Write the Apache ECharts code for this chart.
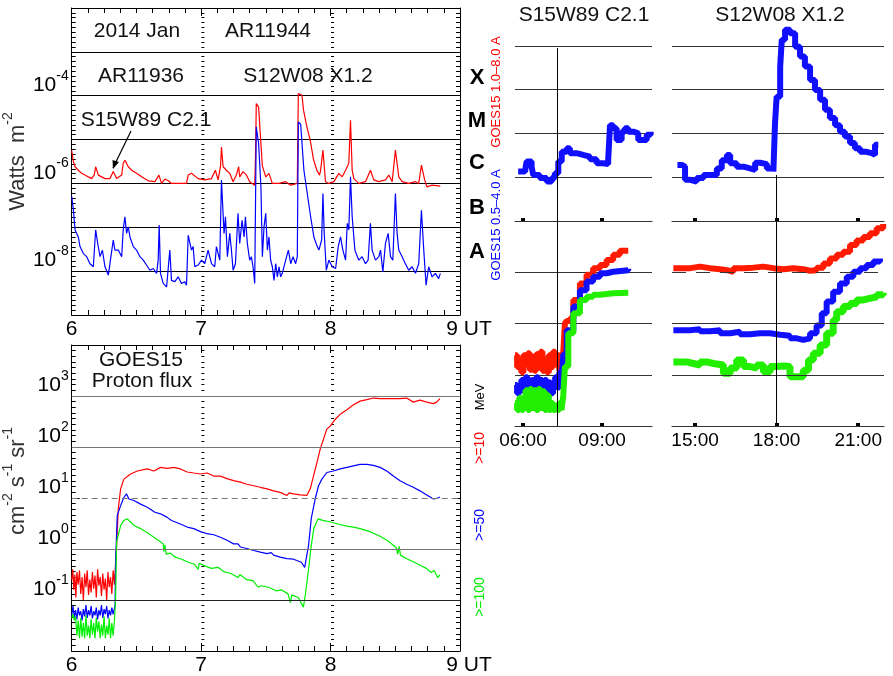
<!DOCTYPE html>
<html>
<head>
<meta charset="utf-8">
<title>GOES15 X-ray and proton flux, 2014 Jan 6-8</title>
<script src="https://cdn.jsdelivr.net/npm/echarts@6.0.0/dist/echarts.min.js"></script>
<style>
  html, body { margin: 0; padding: 0; background: #fff; }
  #chart { width: 893px; height: 676px; }
</style>
</head>
<body>
<div id="chart"></div>
<script>
// ---------------- data ----------------
// left panels: x = day of 2014 Jan (UT), y = log10(flux)
// right panels: x = hour UT of the day, y = log10(flux)

// GOES15 X-ray 1.0-8.0 A, W m^-2 (log10)
const xrayLong = [[6.000,-5.25],[6.013,-5.50],[6.026,-5.62],[6.051,-5.70],[6.077,-5.77],[6.116,-5.83],[6.154,-5.89],[6.175,-5.80],[6.185,-5.62],[6.206,-5.81],[6.257,-5.89],[6.296,-5.89],[6.321,-5.73],[6.347,-5.89],[6.386,-5.81],[6.398,-5.54],[6.411,-5.47],[6.437,-5.62],[6.463,-5.70],[6.501,-5.77],[6.540,-5.85],[6.591,-5.94],[6.643,-5.96],[6.674,-5.81],[6.694,-6.00],[6.720,-5.90],[6.746,-5.94],[6.771,-6.00],[6.823,-6.00],[6.887,-6.00],[6.900,-5.81],[6.925,-5.77],[6.977,-5.89],[7.028,-5.92],[7.080,-5.89],[7.110,-5.70],[7.131,-5.92],[7.150,-5.60],[7.157,-5.17],[7.170,-5.62],[7.195,-5.70],[7.221,-5.77],[7.247,-5.96],[7.272,-5.81],[7.290,-5.62],[7.298,-5.85],[7.324,-5.73],[7.350,-5.81],[7.375,-5.96],[7.414,-6.04],[7.420,-5.40],[7.426,-4.18],[7.444,-4.26],[7.457,-4.87],[7.473,-5.60],[7.499,-5.85],[7.524,-5.77],[7.550,-6.00],[7.602,-6.00],[7.653,-5.96],[7.692,-6.04],[7.743,-6.00],[7.751,-3.95],[7.765,-3.97],[7.779,-3.99],[7.791,-4.33],[7.817,-4.71],[7.843,-5.02],[7.868,-5.45],[7.894,-5.70],[7.915,-5.81],[7.923,-5.70],[7.941,-5.24],[7.961,-5.96],[7.987,-6.00],[8.026,-5.96],[8.064,-5.77],[8.090,-5.85],[8.116,-5.70],[8.141,-5.54],[8.154,-4.56],[8.167,-5.70],[8.180,-5.89],[8.218,-6.00],[8.270,-5.96],[8.308,-5.70],[8.334,-5.92],[8.373,-5.96],[8.424,-5.92],[8.450,-5.81],[8.476,-5.96],[8.501,-5.24],[8.527,-5.85],[8.553,-5.96],[8.604,-6.00],[8.656,-5.96],[8.681,-6.00],[8.702,-5.58],[8.727,-5.92],[8.745,-6.08],[8.784,-6.04],[8.848,-6.06]];

// GOES15 X-ray 0.5-4.0 A (log10)
const xrayShort = [[6.000,-6.30],[6.013,-6.61],[6.026,-7.06],[6.039,-7.03],[6.051,-7.22],[6.064,-7.44],[6.090,-7.60],[6.116,-7.67],[6.141,-7.83],[6.167,-7.90],[6.185,-7.06],[6.201,-7.37],[6.219,-7.67],[6.237,-7.52],[6.257,-7.90],[6.283,-8.09],[6.303,-7.67],[6.321,-7.29],[6.334,-7.52],[6.360,-7.52],[6.386,-7.67],[6.398,-7.06],[6.411,-6.76],[6.424,-7.14],[6.437,-6.99],[6.450,-7.22],[6.476,-7.44],[6.501,-7.52],[6.527,-7.67],[6.553,-7.75],[6.578,-7.86],[6.604,-7.98],[6.630,-7.94],[6.656,-8.05],[6.668,-7.75],[6.676,-6.95],[6.686,-8.05],[6.707,-8.28],[6.733,-8.36],[6.758,-7.52],[6.771,-8.21],[6.797,-8.24],[6.823,-8.13],[6.848,-8.28],[6.874,-8.24],[6.887,-8.32],[6.900,-7.18],[6.925,-7.52],[6.938,-7.44],[6.951,-7.90],[6.977,-7.86],[7.003,-7.75],[7.028,-7.83],[7.054,-7.52],[7.080,-7.83],[7.105,-7.90],[7.118,-7.44],[7.144,-7.75],[7.157,-5.92],[7.177,-7.14],[7.188,-6.76],[7.203,-7.67],[7.221,-7.14],[7.234,-7.52],[7.247,-7.98],[7.265,-7.83],[7.285,-6.68],[7.298,-7.37],[7.316,-6.84],[7.332,-7.22],[7.342,-6.76],[7.357,-7.37],[7.375,-7.75],[7.388,-7.67],[7.401,-7.90],[7.414,-8.28],[7.426,-4.71],[7.444,-5.09],[7.462,-6.08],[7.473,-7.67],[7.486,-6.99],[7.499,-6.68],[7.512,-7.52],[7.524,-7.22],[7.537,-7.75],[7.550,-7.90],[7.563,-8.21],[7.576,-7.83],[7.589,-8.13],[7.602,-7.90],[7.614,-8.13],[7.627,-8.05],[7.653,-7.75],[7.674,-7.52],[7.692,-7.83],[7.710,-7.67],[7.730,-7.83],[7.743,-7.67],[7.751,-4.60],[7.769,-4.65],[7.794,-5.70],[7.820,-6.23],[7.846,-6.76],[7.871,-7.22],[7.897,-7.44],[7.910,-7.52],[7.931,-7.29],[7.941,-6.23],[7.951,-7.14],[7.967,-7.98],[7.987,-7.75],[8.013,-7.90],[8.039,-7.94],[8.059,-7.44],[8.077,-7.22],[8.095,-7.52],[8.116,-7.75],[8.129,-6.91],[8.141,-7.06],[8.154,-5.85],[8.167,-6.76],[8.188,-7.52],[8.218,-7.75],[8.244,-7.67],[8.270,-7.83],[8.290,-7.75],[8.308,-6.91],[8.321,-7.52],[8.347,-7.75],[8.373,-7.67],[8.386,-7.52],[8.404,-8.02],[8.424,-7.37],[8.445,-7.14],[8.463,-7.67],[8.481,-7.75],[8.501,-6.23],[8.514,-7.14],[8.527,-7.52],[8.553,-7.67],[8.578,-7.83],[8.604,-7.98],[8.630,-7.90],[8.656,-8.05],[8.681,-7.83],[8.702,-6.61],[8.720,-7.52],[8.738,-8.32],[8.758,-7.90],[8.784,-8.13],[8.810,-8.05],[8.835,-8.17],[8.848,-8.05]];

// GOES15 proton flux >=10 MeV, cm^-2 s^-1 sr^-1 (log10)
const proton10 = [[6.000,-0.60],[6.008,-0.40],[6.016,-0.80],[6.024,-0.50],[6.032,-0.95],[6.040,-0.45],[6.050,-0.70],[6.060,-0.42],[6.070,-0.88],[6.080,-0.55],[6.090,-1.00],[6.100,-0.48],[6.110,-0.75],[6.120,-0.42],[6.130,-0.90],[6.140,-0.60],[6.150,-0.85],[6.160,-0.45],[6.170,-0.78],[6.180,-0.52],[6.190,-0.95],[6.200,-0.40],[6.210,-0.72],[6.220,-0.55],[6.230,-0.92],[6.240,-0.48],[6.250,-0.80],[6.260,-0.58],[6.270,-1.00],[6.280,-0.45],[6.290,-0.75],[6.300,-0.55],[6.310,-0.88],[6.320,-0.42],[6.330,-0.70],[6.339,-0.30],[6.347,0.07],[6.360,0.79],[6.378,1.18],[6.403,1.37],[6.455,1.47],[6.507,1.53],[6.584,1.57],[6.635,1.53],[6.686,1.60],[6.738,1.58],[6.789,1.60],[6.840,1.57],[6.892,1.51],[6.943,1.49],[6.995,1.47],[7.046,1.49],[7.097,1.43],[7.149,1.43],[7.200,1.38],[7.251,1.34],[7.303,1.31],[7.354,1.27],[7.406,1.24],[7.457,1.21],[7.509,1.18],[7.560,1.14],[7.611,1.11],[7.663,1.05],[7.680,1.10],[7.714,1.08],[7.766,1.06],[7.817,1.05],[7.843,1.18],[7.868,1.43],[7.894,1.69],[7.920,1.96],[7.945,2.15],[7.971,2.35],[7.997,2.41],[8.035,2.54],[8.074,2.64],[8.126,2.73],[8.177,2.83],[8.228,2.90],[8.280,2.93],[8.331,2.96],[8.382,2.95],[8.460,2.95],[8.537,2.95],[8.588,2.96],[8.639,2.88],[8.691,2.92],[8.743,2.88],[8.794,2.85],[8.820,2.88],[8.845,2.95]];

// >=50 MeV (log10)
const proton50 = [[6.000,-1.30],[6.010,-1.12],[6.020,-1.35],[6.030,-1.20],[6.040,-1.38],[6.050,-1.15],[6.060,-1.30],[6.070,-1.22],[6.080,-1.40],[6.090,-1.18],[6.100,-1.32],[6.110,-1.10],[6.120,-1.35],[6.130,-1.20],[6.140,-1.30],[6.150,-1.12],[6.160,-1.36],[6.170,-1.22],[6.180,-1.30],[6.190,-1.15],[6.200,-1.38],[6.210,-1.20],[6.220,-1.30],[6.230,-1.10],[6.240,-1.35],[6.250,-1.18],[6.260,-1.28],[6.270,-1.12],[6.280,-1.36],[6.290,-1.20],[6.300,-1.30],[6.310,-1.15],[6.320,-1.28],[6.335,-1.10],[6.339,-0.25],[6.352,0.66],[6.378,0.85],[6.403,1.01],[6.424,1.08],[6.442,0.98],[6.481,0.95],[6.532,0.88],[6.584,0.82],[6.643,0.72],[6.686,0.69],[6.738,0.62],[6.771,0.56],[6.840,0.49],[6.892,0.43],[6.943,0.40],[6.995,0.34],[7.046,0.30],[7.097,0.28],[7.149,0.23],[7.200,0.17],[7.251,0.10],[7.285,0.10],[7.303,0.04],[7.354,0.01],[7.406,-0.03],[7.457,-0.06],[7.509,-0.09],[7.542,-0.07],[7.560,-0.12],[7.611,-0.16],[7.663,-0.19],[7.714,-0.20],[7.774,-0.26],[7.800,-0.36],[7.830,0.07],[7.851,0.60],[7.881,0.98],[7.907,1.24],[7.933,1.37],[7.971,1.50],[8.022,1.53],[8.074,1.57],[8.126,1.60],[8.177,1.63],[8.228,1.66],[8.280,1.66],[8.331,1.64],[8.382,1.60],[8.434,1.53],[8.485,1.43],[8.537,1.34],[8.588,1.27],[8.639,1.21],[8.691,1.14],[8.743,1.06],[8.794,0.98],[8.820,0.99],[8.845,1.02]];

// >=100 MeV (log10)
const proton100 = [[6.000,-1.36],[6.010,-1.28],[6.020,-1.40],[6.030,-1.32],[6.040,-1.70],[6.050,-1.40],[6.060,-1.75],[6.070,-1.35],[6.080,-1.72],[6.090,-1.45],[6.100,-1.75],[6.110,-1.30],[6.120,-1.70],[6.130,-1.50],[6.140,-1.75],[6.150,-1.38],[6.160,-1.68],[6.170,-1.45],[6.180,-1.75],[6.190,-1.35],[6.200,-1.62],[6.210,-1.42],[6.220,-1.75],[6.230,-1.48],[6.240,-1.70],[6.250,-1.32],[6.260,-1.75],[6.270,-1.50],[6.280,-1.68],[6.290,-1.36],[6.300,-1.75],[6.310,-1.45],[6.320,-1.70],[6.330,-1.40],[6.339,-1.00],[6.347,0.14],[6.360,0.27],[6.378,0.46],[6.403,0.56],[6.429,0.59],[6.455,0.53],[6.481,0.46],[6.532,0.40],[6.584,0.32],[6.635,0.23],[6.686,0.14],[6.707,0.10],[6.712,-0.05],[6.720,0.08],[6.730,-0.10],[6.760,-0.08],[6.800,-0.16],[6.850,-0.20],[6.900,-0.26],[6.950,-0.30],[6.977,-0.40],[6.985,-0.28],[7.028,-0.33],[7.080,-0.38],[7.130,-0.36],[7.180,-0.45],[7.230,-0.48],[7.285,-0.56],[7.300,-0.50],[7.350,-0.60],[7.400,-0.62],[7.440,-0.75],[7.465,-0.72],[7.520,-0.75],[7.580,-0.82],[7.620,-0.80],[7.671,-0.88],[7.690,-1.05],[7.700,-0.90],[7.750,-0.95],[7.790,-1.14],[7.805,-0.90],[7.830,-0.40],[7.851,0.07],[7.870,0.40],[7.902,0.59],[7.940,0.56],[8.000,0.53],[8.057,0.49],[8.126,0.45],[8.177,0.43],[8.228,0.40],[8.280,0.36],[8.314,0.33],[8.382,0.25],[8.442,0.16],[8.506,0.03],[8.519,-0.10],[8.530,0.05],[8.540,-0.12],[8.588,-0.19],[8.639,-0.25],[8.699,-0.33],[8.740,-0.38],[8.776,-0.46],[8.800,-0.42],[8.828,-0.56],[8.845,-0.50]];

// zoom 1 (S15W89 C2.1), hours UT of Jan 6
const zoom1Xray = [[5.82,-6.87],[6.08,-6.83],[6.14,-6.64],[6.33,-6.76],[6.39,-6.95],[6.64,-7.02],[6.90,-7.10],[7.09,-7.02],[7.21,-6.91],[7.34,-6.64],[7.47,-6.42],[7.66,-6.34],[7.78,-6.45],[8.03,-6.49],[8.28,-6.53],[8.54,-6.59],[8.79,-6.68],[9.04,-6.70],[9.23,-6.61],[9.30,-5.81],[9.42,-5.88],[9.55,-6.15],[9.74,-5.96],[9.86,-5.88],[9.99,-5.96],[10.18,-6.00],[10.37,-6.15],[10.56,-6.15],[10.69,-6.03],[10.84,-5.96]];
const zoom1P10 = [[5.70,-0.62],[5.78,-0.85],[5.86,-0.70],[5.94,-0.95],[6.02,-0.62],[6.10,-0.80],[6.18,-0.58],[6.26,-0.90],[6.34,-0.65],[6.42,-0.92],[6.50,-0.60],[6.58,-0.85],[6.66,-0.55],[6.74,-0.92],[6.82,-0.70],[6.90,-0.95],[6.98,-0.62],[7.06,-0.85],[7.14,-0.55],[7.22,-0.80],[7.30,-0.62],[7.38,-0.92],[7.46,-0.70],[7.53,-0.55],[7.59,0.00],[7.66,0.05],[7.78,0.10],[7.91,0.46],[8.16,0.78],[8.41,0.95],[8.66,1.08],[8.92,1.14],[9.17,1.24],[9.42,1.34],[9.67,1.42],[9.99,1.43]];
const zoom1P50 = [[5.70,-1.20],[5.78,-1.36],[5.86,-1.25],[5.94,-1.10],[6.02,-1.30],[6.10,-1.05],[6.18,-1.20],[6.26,-1.32],[6.34,-1.10],[6.42,-1.25],[6.50,-1.05],[6.58,-1.20],[6.66,-1.10],[6.74,-1.25],[6.82,-1.10],[6.90,-1.30],[6.98,-1.15],[7.06,-1.36],[7.14,-1.20],[7.22,-1.05],[7.30,-1.25],[7.38,-0.95],[7.46,-1.10],[7.53,-0.60],[7.66,-0.13],[7.91,0.33],[8.16,0.65],[8.41,0.82],[8.66,0.91],[8.92,0.98],[9.17,1.01],[9.42,1.04],[9.99,1.07]];
const zoom1P100 = [[5.70,-1.55],[5.78,-1.69],[5.86,-1.45],[5.94,-1.69],[6.02,-1.50],[6.10,-1.30],[6.18,-1.69],[6.26,-1.28],[6.34,-1.65],[6.42,-1.30],[6.50,-1.69],[6.58,-1.28],[6.66,-1.65],[6.74,-1.32],[6.82,-1.69],[6.90,-1.40],[6.98,-1.69],[7.06,-1.55],[7.14,-1.69],[7.22,-1.60],[7.30,-1.69],[7.38,-1.55],[7.46,-1.69],[7.53,-1.40],[7.59,-0.84],[7.72,-0.19],[7.91,0.20],[8.16,0.46],[8.41,0.52],[8.66,0.56],[8.92,0.59],[9.42,0.60],[9.99,0.59]];

// zoom 2 (S12W08 X1.2), hours UT of Jan 7
const zoom2Xray = [[14.35,-6.72],[14.51,-6.76],[14.63,-7.06],[14.82,-7.10],[15.06,-7.02],[15.31,-6.95],[15.61,-6.95],[15.80,-6.80],[15.98,-6.61],[16.17,-6.49],[16.29,-6.68],[16.53,-6.76],[16.78,-6.80],[17.02,-6.83],[17.21,-6.67],[17.39,-6.70],[17.64,-6.80],[17.88,-6.87],[17.94,-5.77],[18.00,-5.16],[18.13,-4.47],[18.19,-3.86],[18.31,-3.63],[18.49,-3.71],[18.68,-4.02],[18.86,-4.24],[19.04,-4.47],[19.23,-4.78],[19.41,-5.01],[19.60,-5.23],[19.78,-5.46],[19.96,-5.65],[20.15,-5.81],[20.33,-5.96],[20.51,-6.07],[20.70,-6.22],[20.88,-6.34],[21.07,-6.42],[21.31,-6.45],[21.50,-6.49],[21.62,-6.26],[21.74,-6.26]];
const zoom2P10 = [[14.20,1.08],[14.45,1.08],[14.82,1.11],[15.18,1.08],[15.55,1.06],[15.92,1.04],[16.17,1.01],[16.41,1.08],[16.78,1.09],[17.14,1.11],[17.51,1.08],[17.88,1.06],[18.25,1.08],[18.61,1.06],[18.98,1.03],[19.23,1.04],[19.47,1.09],[19.72,1.17],[19.96,1.27],[20.21,1.34],[20.45,1.40],[20.70,1.53],[20.94,1.62],[21.19,1.69],[21.43,1.76],[21.68,1.86],[21.92,1.94]];
const zoom2P50 = [[14.20,-0.13],[14.45,-0.13],[14.82,-0.11],[15.18,-0.15],[15.55,-0.13],[15.92,-0.19],[16.29,-0.16],[16.65,-0.21],[17.02,-0.19],[17.39,-0.19],[17.76,-0.22],[18.13,-0.24],[18.49,-0.29],[18.74,-0.32],[18.98,-0.29],[19.23,-0.19],[19.47,-0.04],[19.66,0.20],[19.84,0.43],[20.08,0.62],[20.33,0.78],[20.58,0.91],[20.82,1.01],[21.07,1.08],[21.31,1.14],[21.56,1.21],[21.80,1.27]];
const zoom2P100 = [[14.20,-0.75],[14.45,-0.75],[14.69,-0.78],[14.94,-0.81],[15.18,-0.75],[15.43,-0.78],[15.67,-0.81],[16.04,-0.97],[16.29,-0.87],[16.53,-0.71],[16.78,-0.84],[17.02,-0.87],[17.27,-0.81],[17.51,-0.94],[17.76,-0.84],[18.00,-0.83],[18.25,-0.84],[18.49,-1.04],[18.74,-1.04],[18.98,-0.91],[19.17,-0.71],[19.35,-0.58],[19.60,-0.42],[19.84,-0.19],[20.08,0.07],[20.21,0.23],[20.45,0.33],[20.70,0.39],[20.94,0.46],[21.19,0.49],[21.43,0.52],[21.68,0.56],[21.92,0.60]];

// tick labels and markers
const xrayTickExp = [-8, -6, -4];        // labelled decades, X-ray panel
const protonTickExp = [-1, 0, 1, 2, 3];  // labelled decades, proton panel
const protonLines = [3, 2, 1, 0, -1];    // horizontal reference decades
const zoom1Ticks = [6, 9];
const zoom2Ticks = [15, 18, 21];
const zoom1Flare = 7.29;   // vertical marker, hours
const zoom2Flare = 17.97;
const flareClasses = ['X', 'M', 'C', 'B', 'A'];

// ---------------- chart ----------------
const FONT = '"Liberation Sans", Arial, sans-serif';
const RED = '#ff1a00', BLUE = '#1010ff', GREEN = '#22ee00';
const chart = echarts.init(document.getElementById('chart'));

// "10^n" label with a raised exponent
const powRich = {
  b: { fontSize: 21, fontFamily: FONT, color: '#000', lineHeight: 27, verticalAlign: 'bottom' },
  s: { fontSize: 14, fontFamily: FONT, color: '#000', lineHeight: 14, verticalAlign: 'top' }
};
const pow10 = n => '{b|10}{s|' + n + '}';
const hourLabel = v => (v < 10 ? '0' : '') + v + ':00';

// box-style axis helpers (IDL look: ticks pointing inward)
const blackLine = { color: '#000', width: 1 };
function dayAxis(gridIndex, position, withLabels) {
  return {
    gridIndex, type: 'value', min: 6, max: 9, interval: 1, position,
    axisLine: { onZero: false, lineStyle: blackLine },
    axisTick: { inside: true, length: 8, lineStyle: blackLine },
    minorTick: { show: true, splitNumber: 8, length: 5, lineStyle: blackLine },
    splitLine: { show: false },
    axisLabel: withLabels ? {
      color: '#000', fontSize: 21, fontFamily: FONT, margin: 4,
      formatter: v => v === 9 ? '{u|9 UT}' : String(v),
      rich: { u: { fontSize: 21, fontFamily: FONT, color: '#000', padding: [0, 0, 0, 18] } }
    } : { show: false }
  };
}
function decadeAxis(gridIndex, min, max, position, extra) {
  return Object.assign({
    gridIndex, type: 'value', min, max, interval: 1, position,
    axisLine: { onZero: false, lineStyle: blackLine },
    axisTick: { inside: true, length: 8, lineStyle: blackLine },
    minorTick: { show: true, splitNumber: 9, length: 4, lineStyle: blackLine },
    axisLabel: { show: false },
    splitLine: { show: false }
  }, extra);
}
// dotted vertical at a day boundary (ticks only), drawn as an inner y axis
function dotAxis(gridIndex, min, max, offset) {
  return {
    gridIndex, type: 'value', min, max, interval: 1, position: 'left', offset,
    axisLine: { show: false, onZero: false },
    axisTick: { inside: true, length: 3, lineStyle: blackLine },
    minorTick: { show: true, splitNumber: 9, length: 3, lineStyle: blackLine },
    axisLabel: { show: false }, splitLine: { show: false }
  };
}
function hourAxis(gridIndex, min, max, ticks, position, withLabels) {
  return {
    gridIndex, type: 'value', min, max, position,
    axisLine: { show: true, onZero: false, lineStyle: { color: '#333', width: 1 } },
    axisTick: { show: true, inside: position === 'bottom', length: 3, customValues: ticks, lineStyle: { color: '#000', width: 4 } },
    axisLabel: withLabels ? { customValues: ticks, formatter: hourLabel, color: '#000', fontSize: 19, fontFamily: FONT, margin: 5 } : { show: false },
    splitLine: { show: false }
  };
}
function zoomY(gridIndex, min, max, splitOn) {
  return {
    gridIndex, type: 'value', min, max, interval: 1,
    axisLine: { show: false, onZero: false }, axisTick: { show: false }, axisLabel: { show: false },
    splitLine: { show: splitOn, showMinLine: false, showMaxLine: false, lineStyle: { color: '#333', width: 1 } }
  };
}
const dayW = 389 / 3;   // px per day in the left panels

const option = {
  backgroundColor: '#fff',
  animation: false,
  grid: [
    { left: 71, top: 8, width: 389, height: 307 },     // X-ray, Jan 6-9
    { left: 71, top: 345, width: 389, height: 308 },   // protons, Jan 6-9
    { left: 515, top: 24, width: 137, height: 197 },   // zoom 1 X-ray
    { left: 515, top: 221, width: 137, height: 205 },  // zoom 1 protons
    { left: 672, top: 24, width: 212, height: 197 },   // zoom 2 X-ray
    { left: 672, top: 221, width: 212, height: 205 }   // zoom 2 protons
  ],
  xAxis: [
    dayAxis(0, 'bottom', true), dayAxis(0, 'top', false),
    dayAxis(1, 'bottom', true), dayAxis(1, 'top', false),
    { gridIndex: 2, type: 'value', min: 5.7, max: 10.89, show: false },
    hourAxis(3, 5.7, 10.89, zoom1Ticks, 'bottom', true),
    hourAxis(3, 5.7, 10.89, zoom1Ticks, 'top', false),
    { gridIndex: 4, type: 'value', min: 14.15, max: 21.95, show: false },
    hourAxis(5, 14.15, 21.95, zoom2Ticks, 'bottom', true),
    hourAxis(5, 14.15, 21.95, zoom2Ticks, 'top', false)
  ],
  yAxis: [
    // 0-3: X-ray panel
    decadeAxis(0, -9, -2, 'left', {
      axisLabel: { formatter: v => xrayTickExp.includes(v) ? pow10(v) : '', margin: 3, verticalAlign: 'bottom', rich: powRich },
      splitLine: { show: true, showMinLine: false, showMaxLine: false, lineStyle: blackLine },
      name: '{b|Watts  m}{s|-2}', nameLocation: 'middle', nameGap: 40,
      nameTextStyle: { rich: { b: { fontSize: 22, fontFamily: FONT, color: '#333', lineHeight: 28, verticalAlign: 'bottom' }, s: { fontSize: 14, fontFamily: FONT, color: '#333', verticalAlign: 'top' } } }
    }),
    decadeAxis(0, -9, -2, 'right'),
    dotAxis(0, -9, -2, -dayW), dotAxis(0, -9, -2, -2 * dayW),
    // 4-7: proton panel
    decadeAxis(1, -2, 4, 'left', {
      axisLabel: { formatter: v => protonTickExp.includes(v) ? pow10(v) : '', margin: 3, verticalAlign: 'bottom', rich: powRich },
      name: '{b|cm}{s|-2}{b| s}{s|-1}{b| sr}{s|-1}', nameLocation: 'middle', nameGap: 40,
      nameTextStyle: { padding: [0, 0, 0, 34], rich: { b: { fontSize: 22, fontFamily: FONT, color: '#333', lineHeight: 28, verticalAlign: 'bottom' }, s: { fontSize: 14, fontFamily: FONT, color: '#333', verticalAlign: 'top' } } }
    }),
    decadeAxis(1, -2, 4, 'right'),
    dotAxis(1, -2, 4, -dayW), dotAxis(1, -2, 4, -2 * dayW),
    // 8-11: zoom panels
    zoomY(2, -8, -3.5, true), zoomY(3, -2, 2, true),
    zoomY(4, -8, -3.5, true), zoomY(5, -2, 2, false)
  ],
  series: [
    { type: 'line', xAxisIndex: 0, yAxisIndex: 0, data: xrayLong, showSymbol: false, lineStyle: { color: '#ff0000', width: 1.2 } },
    { type: 'line', xAxisIndex: 0, yAxisIndex: 0, data: xrayShort, showSymbol: false, lineStyle: { color: '#0000ff', width: 1.2 } },
    {
      type: 'line', xAxisIndex: 2, yAxisIndex: 4, data: proton10, showSymbol: false, lineStyle: { color: '#ff0000', width: 1.2 },
      // decade lines, dashed at the 10 pfu threshold
      markLine: {
        silent: true, symbol: 'none', label: { show: false }, animation: false,
        data: protonLines.map(v => ({ yAxis: v, lineStyle: { color: v === -1 ? '#222' : '#777', width: 1, type: v === 1 ? [6, 4] : 'solid' } }))
      }
    },
    { type: 'line', xAxisIndex: 2, yAxisIndex: 4, data: proton50, showSymbol: false, lineStyle: { color: '#0000ff', width: 1.2 } },
    { type: 'line', xAxisIndex: 2, yAxisIndex: 4, data: proton100, showSymbol: false, lineStyle: { color: '#00ee00', width: 1.2 } },

    // zoom 1
    {
      type: 'line', xAxisIndex: 4, yAxisIndex: 8, data: zoom1Xray, step: 'end', showSymbol: false, lineStyle: { color: BLUE, width: 6 },
      markLine: { silent: true, symbol: 'none', label: { show: false }, animation: false, lineStyle: { color: '#000', width: 1, type: 'solid' },
        data: [[{ coord: [zoom1Flare, -4.05] }, { coord: [zoom1Flare, -8] }]] }
    },
    { type: 'line', xAxisIndex: 5, yAxisIndex: 9, data: zoom1P10, step: 'end', showSymbol: false, lineStyle: { color: RED, width: 6 } },
    { type: 'line', xAxisIndex: 5, yAxisIndex: 9, data: zoom1P50, step: 'end', showSymbol: false, lineStyle: { color: BLUE, width: 6 } },
    {
      type: 'line', xAxisIndex: 5, yAxisIndex: 9, data: zoom1P100, step: 'end', showSymbol: false, lineStyle: { color: GREEN, width: 6 },
      markLine: { silent: true, symbol: 'none', label: { show: false }, animation: false, lineStyle: { color: '#000', width: 1, type: 'solid' },
        data: [{ xAxis: zoom1Flare }] }
    },

    // zoom 2
    { type: 'line', xAxisIndex: 7, yAxisIndex: 10, data: zoom2Xray, step: 'end', showSymbol: false, lineStyle: { color: BLUE, width: 6 } },
    {
      type: 'line', xAxisIndex: 8, yAxisIndex: 11, data: zoom2P10, step: 'end', showSymbol: false, lineStyle: { color: RED, width: 6 }, z: 3,
      markLine: { silent: true, symbol: 'none', label: { show: false }, animation: false,
        data: [-1, 0, 1].map(v => ({ yAxis: v, lineStyle: { color: '#333', width: 1, type: v === 1 ? [14, 10] : 'solid' } })) }
    },
    { type: 'line', xAxisIndex: 8, yAxisIndex: 11, data: zoom2P50, step: 'end', showSymbol: false, lineStyle: { color: BLUE, width: 6 } },
    {
      type: 'line', xAxisIndex: 8, yAxisIndex: 11, data: zoom2P100, step: 'end', showSymbol: false, lineStyle: { color: GREEN, width: 7 },
      markLine: { silent: true, symbol: 'none', label: { show: false }, animation: false, lineStyle: { color: '#000', width: 1, type: 'solid' },
        data: [{ xAxis: zoom2Flare }] }
    },
    {
      type: 'line', xAxisIndex: 7, yAxisIndex: 10, data: [], showSymbol: false,
      markLine: { silent: true, symbol: 'none', label: { show: false }, animation: false, lineStyle: { color: '#000', width: 1, type: 'solid' },
        data: [[{ coord: [zoom2Flare, -6.95] }, { coord: [zoom2Flare, -8] }]] }
    }
  ],
  graphic: [
    // annotations
    ...[['2014 Jan', 137, 31], ['AR11944', 268, 31], ['AR11936', 141, 76], ['S12W08 X1.2', 308, 76], ['S15W89 C2.1', 146, 120],
        ['GOES15', 141, 360], ['Proton flux', 142, 381], ['S15W89 C2.1', 584, 15], ['S12W08 X1.2', 780, 15]]
      .map(([t, x, y]) => ({ type: 'text', x, y, style: { text: t, fill: '#111', font: '21px ' + FONT, align: 'center', verticalAlign: 'middle', textAlign: 'center', textVerticalAlign: 'middle' } })),
    // arrow to the C2.1 flare
    { type: 'line', shape: { x1: 131, y1: 131, x2: 113, y2: 168 }, style: { stroke: '#000', lineWidth: 1.2 } },
    { type: 'polygon', shape: { points: [[119, 162], [113, 169], [112.5, 160]] }, style: { fill: '#000' } },
    // flare class letters
    ...flareClasses.map((c, i) => ({ type: 'text', x: 477, y: [78, 121, 163, 208, 252][i],
      style: { text: c, fill: '#000', font: 'bold 22px ' + FONT, align: 'center', verticalAlign: 'middle', textAlign: 'center', textVerticalAlign: 'middle' } })),
    // rotated channel labels
    ...[['GOES15 1.0\u20138.0 A', 496, 92, '#ff0000', 13], ['GOES15 0.5\u20134.0 A', 496, 225, '#0000ff', 13],
        ['MeV', 480, 397, '#000', 13], ['>=10', 480, 448, '#ff0000', 14], ['>=50', 480, 525, '#0000ff', 14], ['>=100', 480, 597, '#00ee00', 14]]
      .map(([t, x, y, c, fs]) => ({ type: 'text', x, y, rotation: Math.PI / 2,
        style: { text: t, fill: c, font: fs + 'px ' + FONT, align: 'center', verticalAlign: 'middle', textAlign: 'center', textVerticalAlign: 'middle' } }))
  ]
};

chart.setOption(option);
</script>
</body>
</html>
